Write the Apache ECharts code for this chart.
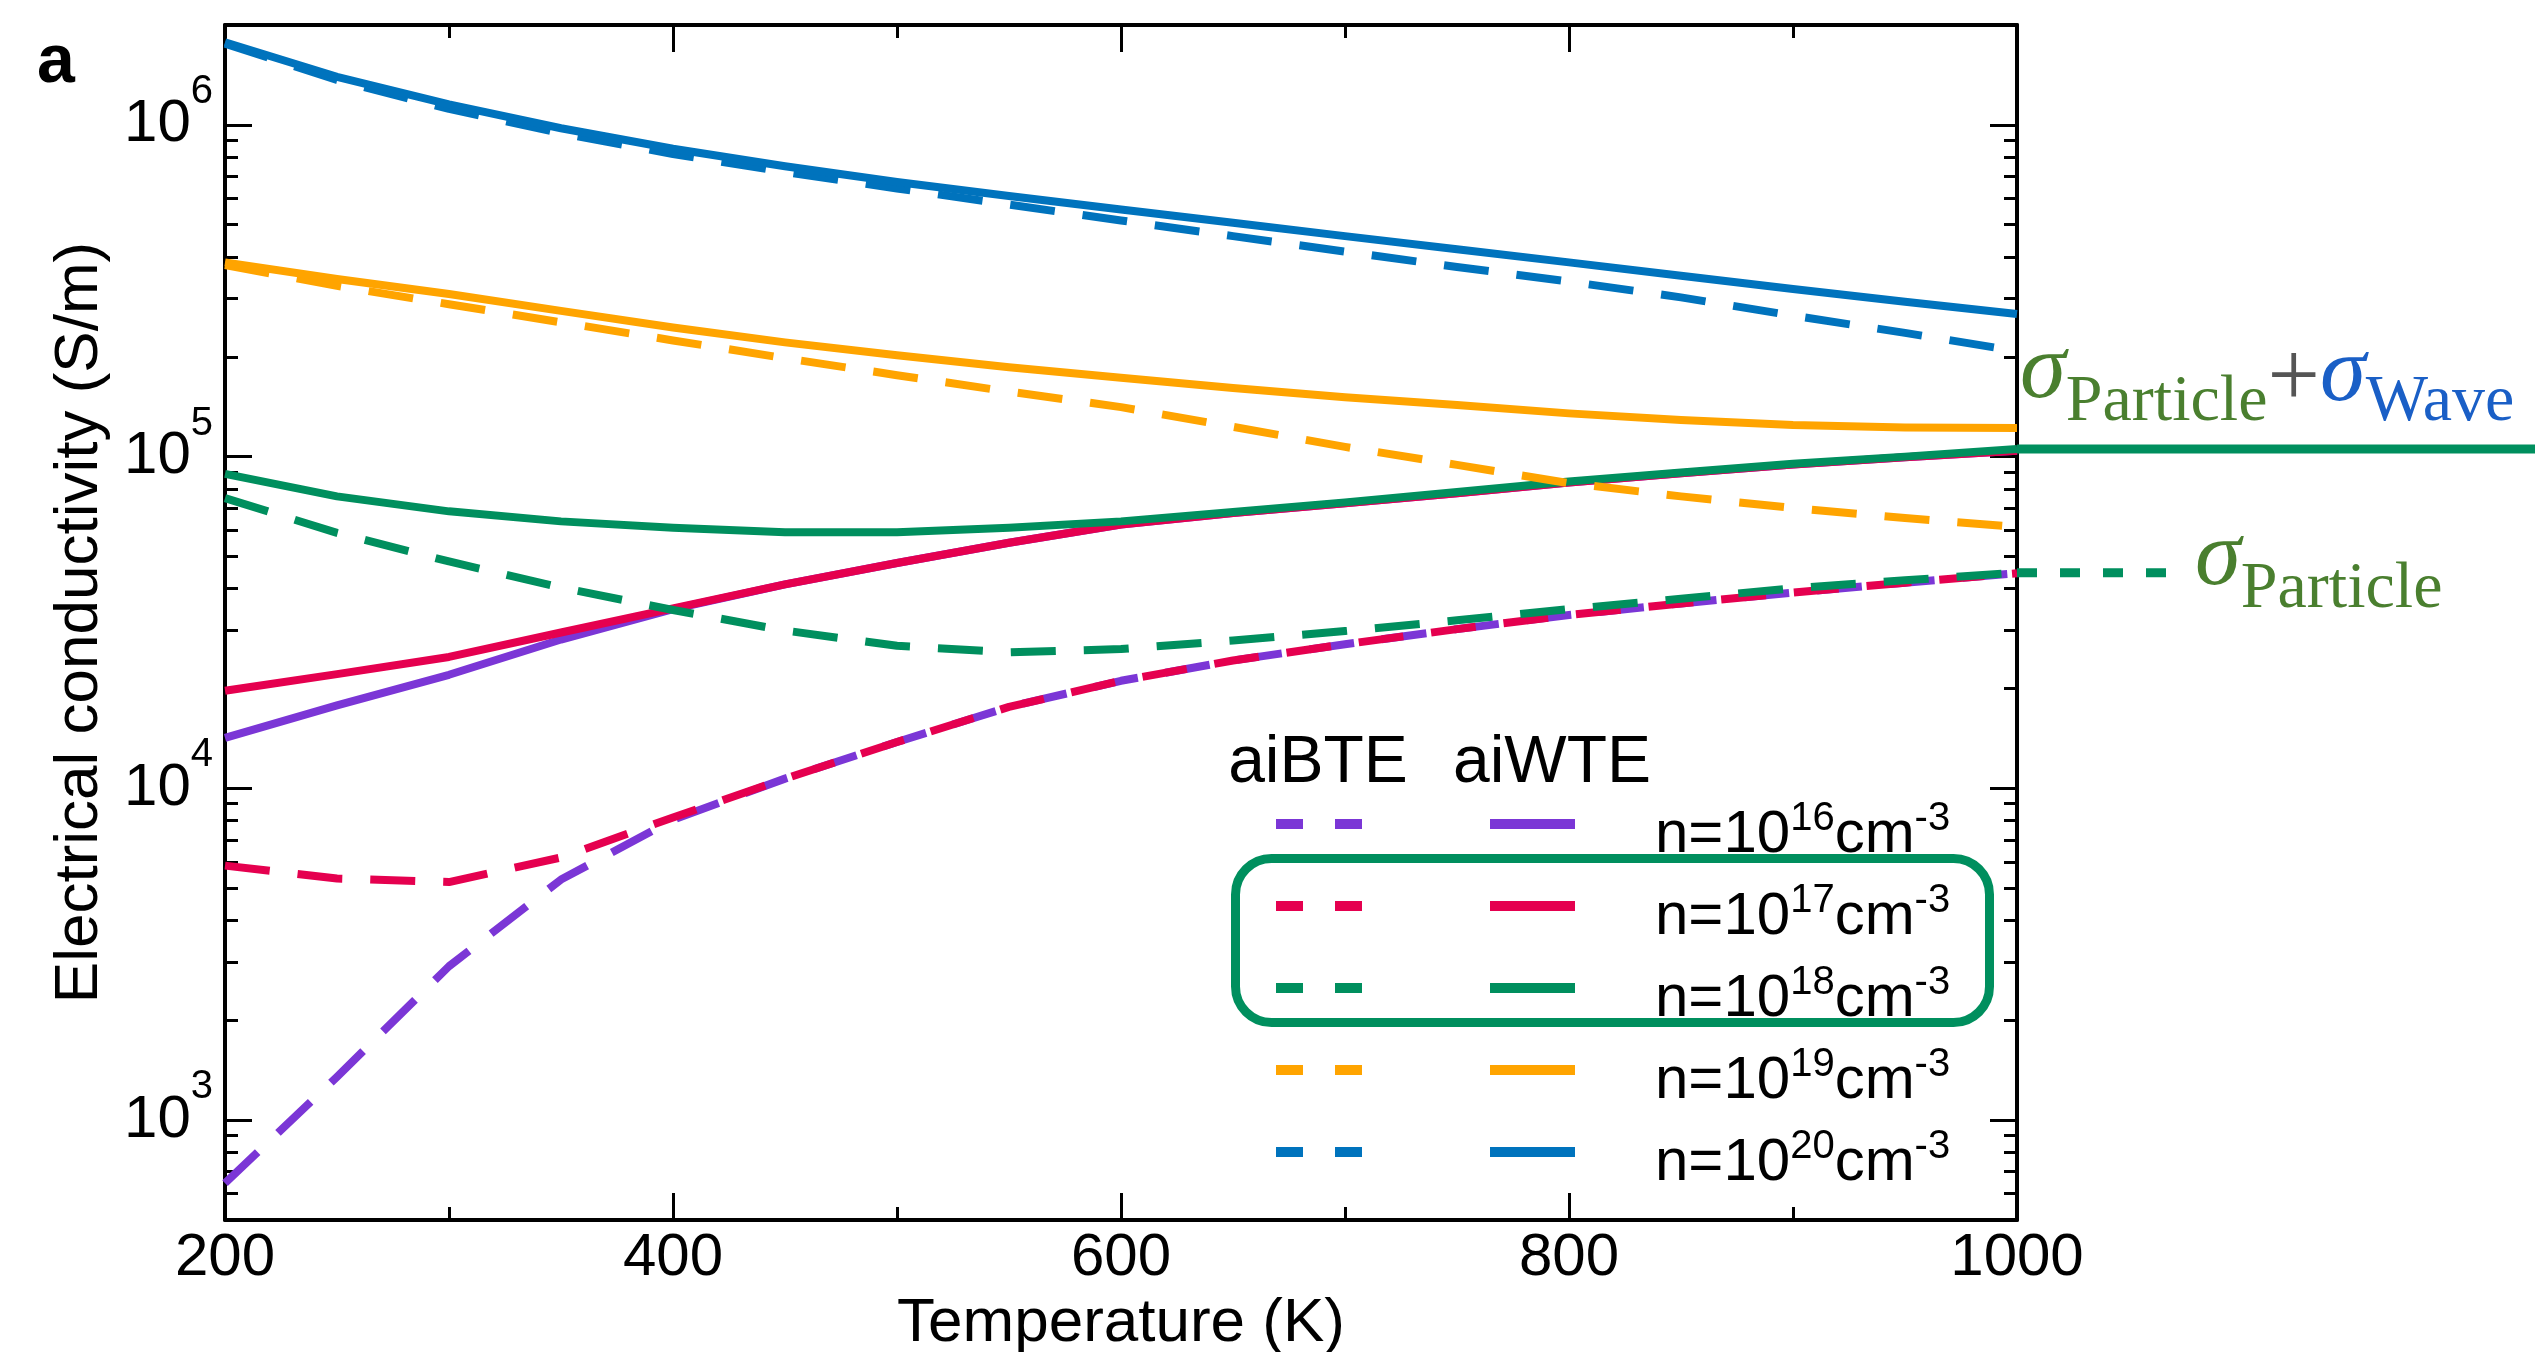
<!DOCTYPE html>
<html>
<head>
<meta charset="utf-8">
<script src="https://cdn.jsdelivr.net/npm/echarts@6/dist/echarts.min.js"></script>
<style>
  html, body { margin: 0; padding: 0; background: #ffffff; }
  #chart { width: 2535px; height: 1352px; }
</style>
</head>
<body>
<div id="chart"></div>
<script>
// Temperature grid (K)
const temperatureK = [200, 250, 300, 350, 400, 450, 500, 550, 600, 650, 700, 750, 800, 850, 900, 950, 1000];

// Electrical conductivity (S/m), aiBTE (particle-like transport only)
const bteN16 = [646, 1350, 2910, 5310, 8040, 10700, 13800, 17600, 21100, 24300, 27200, 30200, 33300, 36100, 38900, 41700, 44500];
const bteN17 = [5850, 5350, 5220, 6190, 8170, 10700, 13800, 17600, 21100, 24300, 27200, 30200, 33300, 36100, 38900, 41700, 44500];
const bteN18 = [75000, 58900, 48300, 40300, 34500, 29900, 26900, 25700, 26300, 27900, 29800, 32100, 34700, 37300, 40100, 42400, 44700];
const bteN19 = [378000, 327000, 288000, 254000, 224000, 198000, 176000, 157000, 141000, 123000, 107000, 94400, 83200, 75900, 70000, 65300, 61400];
const bteN20 = [1758000, 1365000, 1117000, 944000, 817000, 721000, 643000, 575000, 515000, 462000, 415000, 373000, 337000, 302000, 266000, 236000, 208000];

// Electrical conductivity (S/m), aiWTE (particle + wave-like transport)
const wteN16 = [14200, 17800, 22000, 28100, 34700, 41200, 47800, 55000, 62400, 67600, 72400, 77600, 83600, 89100, 94600, 99500, 104200];
const wteN17 = [19700, 22100, 24900, 29500, 34900, 41200, 47800, 55000, 62400, 67600, 72400, 77600, 83600, 89100, 94600, 99500, 104200];
const wteN18 = [88700, 75900, 68400, 63800, 61000, 59200, 59200, 61000, 63800, 68100, 72800, 78200, 84100, 89500, 95100, 100000, 105400];
const wteN19 = [385000, 343000, 309000, 275000, 245000, 221000, 202000, 186000, 173000, 161000, 151000, 143000, 135000, 129000, 124500, 122500, 122000];
const wteN20 = [1774000, 1396000, 1153000, 977000, 847000, 750000, 673000, 610000, 556000, 507000, 462000, 422000, 385000, 351000, 320000, 293000, 269000];

// Carrier density exponents (n = 10^x cm^-3), legend order
const densityExponents = ['16', '17', '18', '19', '20'];

// Axis ticks
const xTicks = [200, 400, 600, 800, 1000];
const yMajorTicks = [1e3, 1e4, 1e5, 1e6];
const yMinorTicks = [600, 700, 800, 900,
  2000, 3000, 4000, 5000, 6000, 7000, 8000, 9000,
  20000, 30000, 40000, 50000, 60000, 70000, 80000, 90000,
  200000, 300000, 400000, 500000, 600000, 700000, 800000, 900000];

const SANS = '"Liberation Sans", Arial, Helvetica, sans-serif';
const SERIF = '"Liberation Serif", "Times New Roman", serif';

const COLORS = ['#7b36d6', '#e5004f', '#008f5e', '#ffa400', '#0073bd'];
const ANNOT_GREEN = '#4a7f2f';
const ANNOT_BLUE = '#1a5fc6';
const LINE_W = 8;
const DASH = [45, 28];

const bteSets = [bteN16, bteN17, bteN18, bteN19, bteN20];
const wteSets = [wteN16, wteN17, wteN18, wteN19, wteN20];

function makeSeries(name, values, color, dashed) {
  return {
    name: name,
    type: 'line',
    xAxisIndex: 0,
    yAxisIndex: 0,
    data: temperatureK.map((t, i) => [t, values[i]]),
    showSymbol: false,
    symbol: 'none',
    silent: true,
    lineStyle: { color: color, width: LINE_W, type: dashed ? DASH : 'solid', cap: 'butt', join: 'round' },
    itemStyle: { color: color },
    z: 3
  };
}

const series = [];
for (let k = 0; k < densityExponents.length; k++) {
  series.push(makeSeries('aiBTE n=1e' + densityExponents[k], bteSets[k], COLORS[k], true));
  series.push(makeSeries('aiWTE n=1e' + densityExponents[k], wteSets[k], COLORS[k], false));
}

const axisLineStyle = { color: '#000', width: 4 };
const majorTick = { show: true, inside: true, length: 27, lineStyle: { color: '#000', width: 3 } };
const minorTickX = { show: true, splitNumber: 2, length: 13, lineStyle: { color: '#000', width: 3 } };

function xAxisDef(position, showLabels) {
  const ax = {
    type: 'value', position: position, min: 200, max: 1000, interval: 200,
    axisLine: { show: true, onZero: false, lineStyle: axisLineStyle },
    axisTick: majorTick,
    minorTick: minorTickX,
    splitLine: { show: false },
    minorSplitLine: { show: false },
    axisLabel: { show: showLabels, color: '#000', fontSize: 60, fontFamily: SANS, margin: 8,
      customValues: xTicks, formatter: function (v) { return String(v); } }
  };
  if (showLabels) {
    ax.name = 'Temperature (K)';
    ax.nameLocation = 'middle';
    ax.nameGap = 70;
    ax.nameTextStyle = { color: '#000', fontSize: 62, fontFamily: SANS };
  }
  return ax;
}

function yAxisDef(position, minor, showLabels) {
  const ax = {
    type: 'log', logBase: 10, position: position, min: 500, max: 2000000,
    axisLine: { show: !minor, onZero: false, lineStyle: axisLineStyle },
    axisTick: {
      show: true, inside: true, length: minor ? 13 : 27,
      customValues: minor ? yMinorTicks : yMajorTicks,
      lineStyle: { color: '#000', width: 3 }
    },
    minorTick: { show: false },
    splitLine: { show: false },
    axisLabel: { show: false }
  };
  if (showLabels) {
    ax.axisLabel = {
      show: true,
      customValues: yMajorTicks,
      margin: 12,
      formatter: function (v) {
        return '{m|10}{s|' + Math.round(Math.log10(v)) + '}';
      },
      rich: {
        m: { color: '#000', fontSize: 60, lineHeight: 60, fontFamily: SANS, verticalAlign: 'bottom' },
        s: { color: '#000', fontSize: 40, lineHeight: 40, fontFamily: SANS, verticalAlign: 'bottom', padding: [0, 0, 43, 0] }
      }
    };
    ax.name = 'Electrical conductivity (S/m)';
    ax.nameLocation = 'middle';
    ax.nameGap = 114;
    ax.nameTextStyle = { color: '#000', fontSize: 62, fontFamily: SANS };
  }
  return ax;
}

const option = {
  animation: false,
  backgroundColor: '#ffffff',
  grid: { left: 225, right: 518, top: 25, bottom: 132, containLabel: false, outerBoundsMode: 'none' },
  xAxis: [xAxisDef('bottom', true), xAxisDef('top', false)],
  yAxis: [
    yAxisDef('left', false, true),
    yAxisDef('left', true, false),
    yAxisDef('right', false, false),
    yAxisDef('right', true, false)
  ],
  series: series
};

const chart = echarts.init(document.getElementById('chart'), null, { renderer: 'canvas' });
chart.setOption(option);

// ---- legend (two sample columns + density labels) ----
const graphics = [];
graphics.push({
  type: 'text', z: 100,
  style: { text: 'a', x: 37, y: 63, fill: '#000', fontFamily: SANS, fontWeight: 'bold', fontSize: 68,
    align: 'left', verticalAlign: 'middle', textAlign: 'left', textVerticalAlign: 'middle' }
});
graphics.push({
  type: 'text', z: 100,
  style: { text: 'aiBTE', x: 1318, y: 764, fill: '#000', fontFamily: SANS, fontSize: 66,
    align: 'center', verticalAlign: 'middle', textAlign: 'center', textVerticalAlign: 'middle' }
});
graphics.push({
  type: 'text', z: 100,
  style: { text: 'aiWTE', x: 1552, y: 764, fill: '#000', fontFamily: SANS, fontSize: 66,
    align: 'center', verticalAlign: 'middle', textAlign: 'center', textVerticalAlign: 'middle' }
});

const rowY0 = 824, rowStep = 82;
densityExponents.forEach(function (ex, k) {
  const y = rowY0 + k * rowStep;
  const c = COLORS[k];
  graphics.push({ type: 'line', z: 100, shape: { x1: 1276, y1: y, x2: 1303, y2: y }, style: { stroke: c, lineWidth: 10 } });
  graphics.push({ type: 'line', z: 100, shape: { x1: 1335, y1: y, x2: 1362, y2: y }, style: { stroke: c, lineWidth: 10 } });
  graphics.push({ type: 'line', z: 100, shape: { x1: 1490, y1: y, x2: 1575, y2: y }, style: { stroke: c, lineWidth: 10 } });
  graphics.push({
    type: 'text', z: 100,
    style: {
      text: '{m|n=10}{s|' + ex + '}{m|cm}{s|-3}',
      x: 1655, y: y + 11,
      align: 'left', verticalAlign: 'middle', textAlign: 'left', textVerticalAlign: 'middle',
      rich: {
        m: { fill: '#000', fontFamily: SANS, fontSize: 60, lineHeight: 60, verticalAlign: 'bottom' },
        s: { fill: '#000', fontFamily: SANS, fontSize: 40, lineHeight: 40, verticalAlign: 'bottom', padding: [0, 0, 26, 0] }
      }
    }
  });
});

// highlight box around n=1e17 and n=1e18 rows
graphics.push({
  type: 'rect', z: 101,
  shape: { x: 1235.5, y: 858.5, width: 754, height: 164, r: 36 },
  style: { fill: 'none', stroke: COLORS[2], lineWidth: 9 }
});

// ---- right-hand annotation of the n=1e18 end values ----
const last = temperatureK.length - 1;
const pWave = chart.convertToPixel({ xAxisIndex: 0, yAxisIndex: 0 }, [temperatureK[last], wteN18[last]]);
const pPart = chart.convertToPixel({ xAxisIndex: 0, yAxisIndex: 0 }, [temperatureK[last], bteN18[last]]);

graphics.push({
  type: 'line', z: 100,
  shape: { x1: pWave[0], y1: pWave[1], x2: 2535, y2: pWave[1] },
  style: { stroke: COLORS[2], lineWidth: 9 }
});
graphics.push({
  type: 'line', z: 100,
  shape: { x1: pPart[0], y1: pPart[1], x2: pPart[0] + 150, y2: pPart[1] },
  style: { stroke: COLORS[2], lineWidth: 9, lineDash: [20, 23] }
});

const sigmaRich = {
  g: { fill: ANNOT_GREEN, fontFamily: SERIF, fontStyle: 'italic', fontSize: 93, lineHeight: 93, verticalAlign: 'bottom', padding: [0, 0, 17, 0] },
  gs: { fill: ANNOT_GREEN, fontFamily: SERIF, fontSize: 66, lineHeight: 66, verticalAlign: 'bottom' },
  p: { fill: '#555555', fontFamily: SERIF, fontSize: 93, lineHeight: 93, verticalAlign: 'bottom', padding: [0, 0, 8, 0] },
  b: { fill: ANNOT_BLUE, fontFamily: SERIF, fontStyle: 'italic', fontSize: 93, lineHeight: 93, verticalAlign: 'bottom', padding: [0, 0, 14, 0] },
  bs: { fill: ANNOT_BLUE, fontFamily: SERIF, fontSize: 66, lineHeight: 66, verticalAlign: 'bottom' }
};

graphics.push({
  type: 'text', z: 100,
  style: {
    text: '{g|σ}{gs|Particle}{p|+}{b|σ}{bs|Wave}',
    x: pWave[0] + 3, y: pWave[1] - 106,
    align: 'left', verticalAlign: 'top', textAlign: 'left', textVerticalAlign: 'top',
    rich: sigmaRich
  }
});
graphics.push({
  type: 'text', z: 100,
  style: {
    text: '{g|σ}{gs|Particle}',
    x: pPart[0] + 178, y: pPart[1] - 43,
    align: 'left', verticalAlign: 'top', textAlign: 'left', textVerticalAlign: 'top',
    rich: sigmaRich
  }
});

chart.setOption({ graphic: { elements: graphics } });
</script>
</body>
</html>
